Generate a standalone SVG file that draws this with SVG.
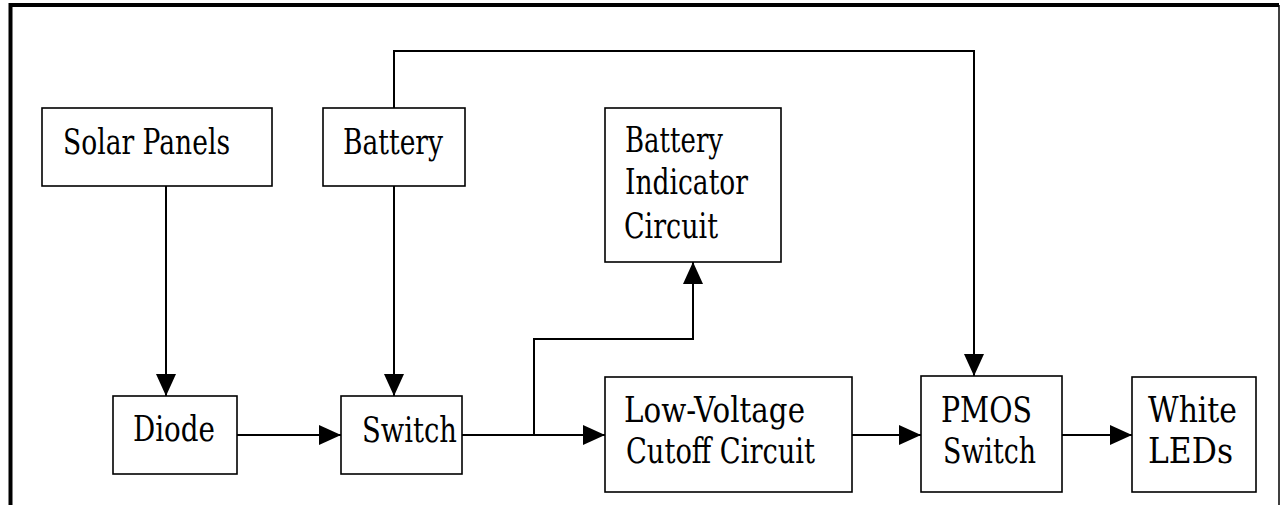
<svg xmlns="http://www.w3.org/2000/svg" width="1280" height="505" viewBox="0 0 1280 505">
<style>
.box{fill:#fff;stroke:#000;stroke-width:1.6}
.t{font-family:"DejaVu Serif","Liberation Serif",serif;font-size:36px;fill:#000}
.c{fill:none;stroke:#000;stroke-width:2}
.a{marker-end:url(#ah)}
</style>
<defs>
<marker id="ah" markerUnits="userSpaceOnUse" markerWidth="22" markerHeight="20" viewBox="0 0 22 20" refX="22" refY="10" orient="auto">
<path d="M0,0 L22,10 L0,20 Z" fill="#000"/>
</marker>
</defs>
<rect width="1280" height="505" fill="#fff"/>
<g id="frame">
<path d="M10.5,510 V5 H1279" fill="none" stroke="#000" stroke-width="4"/>
<path d="M1279,5 V510" fill="none" stroke="#000" stroke-width="1.5"/>
</g>
<g id="connectors">
<path class="c a" d="M394,108 V51 H974 V376"/>
<path class="c a" d="M166,186 V396"/>
<path class="c a" d="M394,186 V396"/>
<path class="c a" d="M237,435 H341"/>
<path class="c a" d="M462,435 H605"/>
<path class="c a" d="M534,435 V339 H693 V262"/>
<path class="c a" d="M852,435 H921"/>
<path class="c a" d="M1062,435 H1132"/>
</g>
<g id="solar">
<rect class="box" x="42" y="108" width="230" height="78"/>
<text class="t" x="63" y="154" textLength="167" lengthAdjust="spacingAndGlyphs">Solar Panels</text>
</g>
<g id="battery">
<rect class="box" x="323" y="108" width="142" height="78"/>
<text class="t" x="343" y="154" textLength="100" lengthAdjust="spacingAndGlyphs">Battery</text>
</g>
<g id="indicator">
<rect class="box" x="605" y="108" width="176" height="154"/>
<text class="t" x="625" y="152" textLength="98" lengthAdjust="spacingAndGlyphs">Battery</text>
<text class="t" x="625" y="194" textLength="123" lengthAdjust="spacingAndGlyphs">Indicator</text>
<text class="t" x="624" y="238" textLength="94" lengthAdjust="spacingAndGlyphs">Circuit</text>
</g>
<g id="diode">
<rect class="box" x="113" y="396" width="124" height="78"/>
<text class="t" x="133" y="441" textLength="82" lengthAdjust="spacingAndGlyphs">Diode</text>
</g>
<g id="switch">
<rect class="box" x="341" y="396" width="121" height="78"/>
<text class="t" x="362" y="442" textLength="95" lengthAdjust="spacingAndGlyphs">Switch</text>
</g>
<g id="lvc">
<rect class="box" x="605" y="377" width="247" height="115"/>
<text class="t" x="624" y="422" textLength="181" lengthAdjust="spacingAndGlyphs">Low-Voltage</text>
<text class="t" x="626" y="463" textLength="189" lengthAdjust="spacingAndGlyphs">Cutoff Circuit</text>
</g>
<g id="pmos">
<rect class="box" x="921" y="376" width="141" height="116"/>
<text class="t" x="941" y="422" textLength="91" lengthAdjust="spacingAndGlyphs">PMOS</text>
<text class="t" x="943" y="463" textLength="93" lengthAdjust="spacingAndGlyphs">Switch</text>
</g>
<g id="leds">
<rect class="box" x="1132" y="377" width="124" height="115"/>
<text class="t" x="1148" y="422" textLength="89" lengthAdjust="spacingAndGlyphs">White</text>
<text class="t" x="1148" y="463" textLength="85" lengthAdjust="spacingAndGlyphs">LEDs</text>
</g>
</svg>
